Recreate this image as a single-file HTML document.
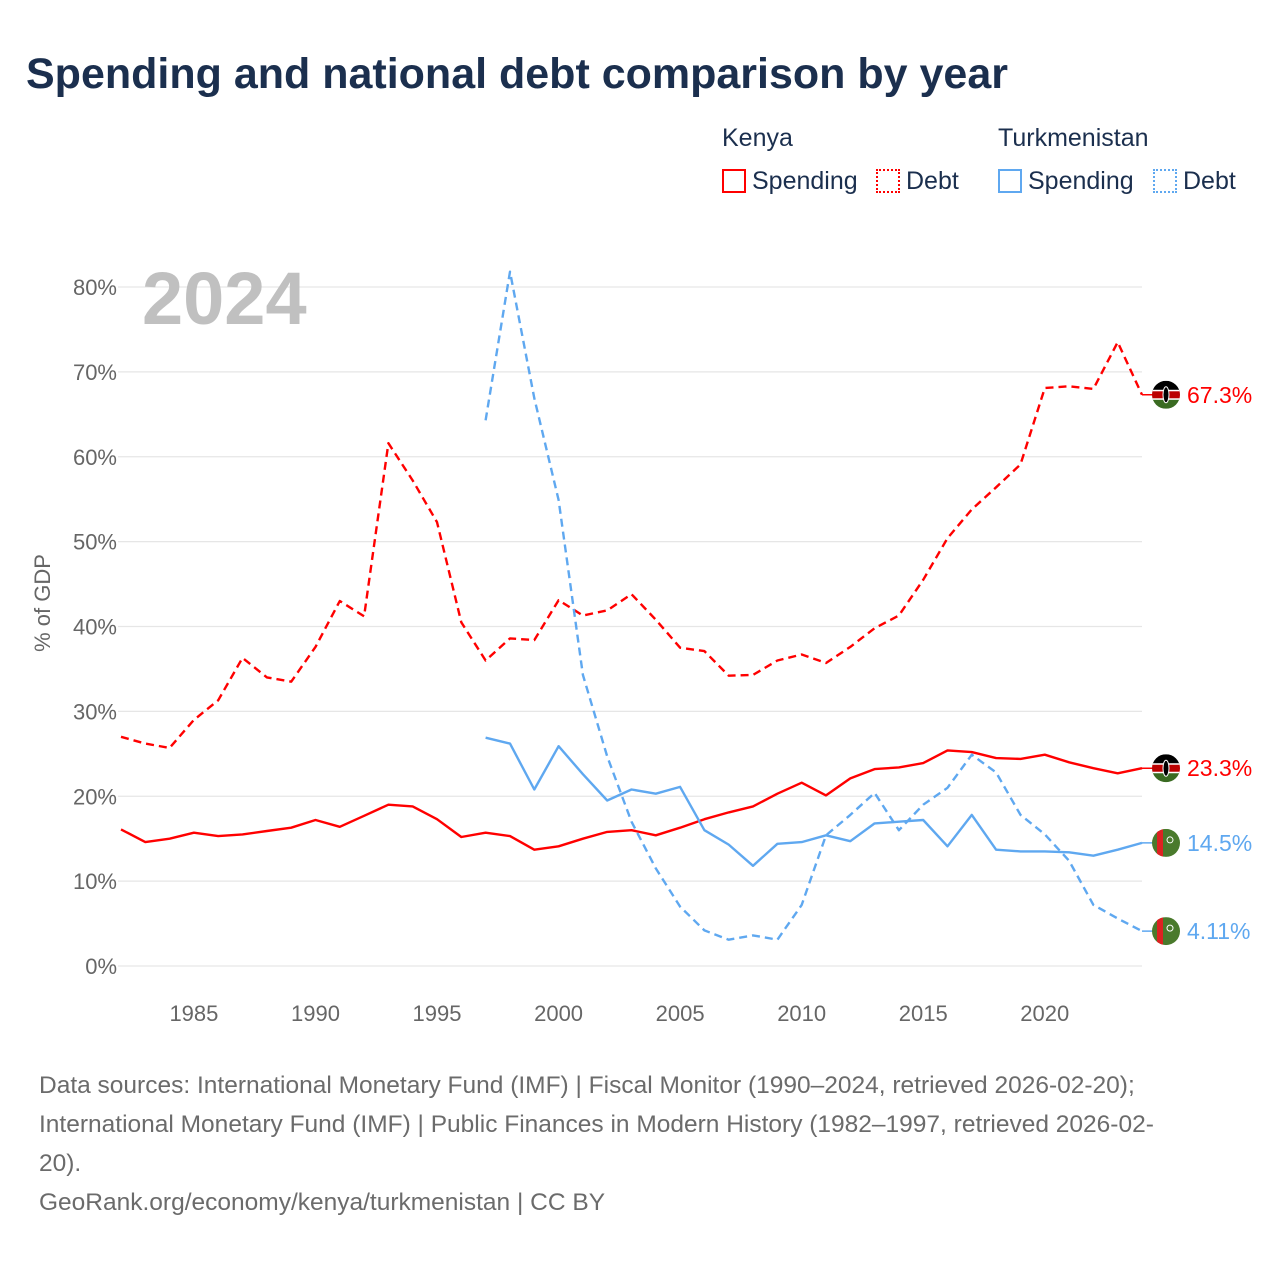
<!DOCTYPE html>
<html><head><meta charset="utf-8"><style>
body{margin:0;background:#fff;font-family:"Liberation Sans",sans-serif;}
#wrap{position:relative;width:1280px;height:1280px;overflow:hidden;}
.t{position:absolute;white-space:nowrap;}
</style></head><body>
<div id="wrap">
<div class="t" style="left:26px;top:50px;font-size:43px;font-weight:bold;color:#1b2f4e;letter-spacing:0px">Spending and national debt comparison by year</div>
<div class="t" style="left:722px;top:124px;font-size:25px;color:#1b2f4e">Kenya</div>
<div class="t" style="left:998px;top:124px;font-size:25px;color:#1b2f4e">Turkmenistan</div>
<div class="t" style="left:722px;top:167px;font-size:25px;color:#1b2f4e"><span style="display:inline-block;width:24px;height:24px;border:2px solid #f00;box-sizing:border-box;vertical-align:-4px;margin-right:6px"></span>Spending</div>
<div class="t" style="left:876px;top:167px;font-size:25px;color:#1b2f4e"><span style="display:inline-block;width:24px;height:24px;border:2px dotted #f00;box-sizing:border-box;vertical-align:-4px;margin-right:6px"></span>Debt</div>
<div class="t" style="left:998px;top:167px;font-size:25px;color:#1b2f4e"><span style="display:inline-block;width:24px;height:24px;border:2px solid #5fa8f0;box-sizing:border-box;vertical-align:-4px;margin-right:6px"></span>Spending</div>
<div class="t" style="left:1153px;top:167px;font-size:25px;color:#1b2f4e"><span style="display:inline-block;width:24px;height:24px;border:2px dotted #5fa8f0;box-sizing:border-box;vertical-align:-4px;margin-right:6px"></span>Debt</div>
<svg id="chart" width="1280" height="1280" style="position:absolute;left:0;top:0"></svg>
<div class="t" style="left:39px;top:1066px;font-size:24.5px;line-height:39px;color:#6b6b6b">Data sources: International Monetary Fund (IMF) | Fiscal Monitor (1990–2024, retrieved 2026-02-20);<br>International Monetary Fund (IMF) | Public Finances in Modern History (1982–1997, retrieved 2026-02-<br>20).<br>GeoRank.org/economy/kenya/turkmenistan | CC BY</div>
</div>
<script>
const kenyaYears=[1982,1983,1984,1985,1986,1987,1988,1989,1990,1991,1992,1993,1994,1995,1996,1997,1998,1999,2000,2001,2002,2003,2004,2005,2006,2007,2008,2009,2010,2011,2012,2013,2014,2015,2016,2017,2018,2019,2020,2021,2022,2023,2024];
const kenyaDebt=[27.0,26.2,25.7,29.0,31.3,36.3,34.0,33.5,37.6,43.0,41.2,61.6,57.2,52.3,40.5,36.0,38.6,38.4,43.1,41.3,41.9,43.8,40.8,37.5,37.1,34.2,34.3,36.0,36.7,35.7,37.6,39.8,41.3,45.5,50.4,53.8,56.4,59.1,68.1,68.3,68.0,73.5,67.3];
const kenyaSpending=[16.1,14.6,15.0,15.7,15.3,15.5,15.9,16.3,17.2,16.4,17.7,19.0,18.8,17.3,15.2,15.7,15.3,13.7,14.1,15.0,15.8,16.0,15.4,16.3,17.3,18.1,18.8,20.3,21.6,20.1,22.1,23.2,23.4,23.9,25.4,25.2,24.5,24.4,24.9,24.0,23.3,22.7,23.3];
const tkmYears=[1997,1998,1999,2000,2001,2002,2003,2004,2005,2006,2007,2008,2009,2010,2011,2012,2013,2014,2015,2016,2017,2018,2019,2020,2021,2022,2023,2024];
const tkmDebt=[64.3,81.8,66.9,54.9,34.3,24.7,17.0,11.5,7.0,4.2,3.1,3.6,3.1,7.2,15.4,17.8,20.4,16.0,19.0,21.0,24.9,22.8,17.8,15.5,12.4,7.2,5.6,4.11];
const tkmSpending=[26.9,26.2,20.8,25.9,22.6,19.5,20.8,20.3,21.1,16.0,14.3,11.8,14.4,14.6,15.4,14.7,16.8,17.0,17.2,14.1,17.8,13.7,13.5,13.5,13.4,13.0,13.7,14.5];
const yTicks=[0,10,20,30,40,50,60,70,80];
const xTicks=[1985,1990,1995,2000,2005,2010,2015,2020];
const endLabels=["67.3%","23.3%","14.5%","4.11%"];

const svg=document.getElementById('chart');const NS='http://www.w3.org/2000/svg';
const X0=121,X1=1142,Y0=966,Y80=287;
const xs=y=>X0+(y-1982)/(2024-1982)*(X1-X0);
const ys=v=>Y0-v/80*(Y0-Y80);
function mk(t,a){const e=document.createElementNS(NS,t);for(const k in a)e.setAttribute(k,a[k]);svg.appendChild(e);return e;}
yTicks.forEach(v=>{
 const g=mk('line',{x1:118,x2:X1,y1:ys(v),y2:ys(v),stroke:'#e6e6e6','stroke-width':1.3});
 
 
 const t=mk('text',{x:117,y:ys(v)+8,'text-anchor':'end','font-size':22,fill:'#666','font-family':'Liberation Sans'});
 t.textContent=v+'%';
 
 
});
xTicks.forEach(y=>{
 const t=mk('text',{x:xs(y),y:1021,'text-anchor':'middle','font-size':22,fill:'#666','font-family':'Liberation Sans'});
 t.textContent=y;
 
 
});
const yt=mk('text',{x:0,y:0,transform:'translate(50,603) rotate(-90)','text-anchor':'middle','font-size':22,fill:'#666','font-family':'Liberation Sans'});
yt.textContent='% of GDP';


const yr=mk('text',{x:142,y:324,'font-size':74,'font-weight':'bold',fill:'#c0c0c0','font-family':'Liberation Sans'});
yr.textContent='2024';


function line(years,vals,color,dash,name){
 const d=years.map((y,i)=>(i?'L':'M')+xs(y).toFixed(1)+','+ys(vals[i]).toFixed(1)).join(' ');
 const p=mk('path',{d:d,fill:'none',stroke:color,'stroke-width':2.4,'stroke-dasharray':dash,'stroke-linejoin':'round'});
 
 
}
line(kenyaYears,kenyaDebt,'#ff0000','8,5','kenya-debt-line');
line(kenyaYears,kenyaSpending,'#ff0000','none','kenya-spending-line');
line(tkmYears,tkmDebt,'#5fa8f0','8,5','turkmenistan-debt-line');
line(tkmYears,tkmSpending,'#5fa8f0','none','turkmenistan-spending-line');
const ends=[[kenyaDebt[kenyaDebt.length-1],'#ff0000','k'],[kenyaSpending[kenyaSpending.length-1],'#ff0000','k'],[tkmSpending[tkmSpending.length-1],'#5fa8f0','t'],[tkmDebt[tkmDebt.length-1],'#5fa8f0','t']];
ends.forEach((e,i)=>{
 const y=ys(e[0]);const cx=1166;
 mk('line',{x1:X1,x2:cx,y1:y,y2:y,stroke:e[1],'stroke-width':1.5});
 const g=document.createElementNS(NS,'g');svg.appendChild(g);
 
 
 const cid='c'+i;
 const cp=document.createElementNS(NS,'clipPath');cp.setAttribute('id',cid);
 const cc=document.createElementNS(NS,'circle');cc.setAttribute('cx',cx);cc.setAttribute('cy',y);cc.setAttribute('r',14);cp.appendChild(cc);g.appendChild(cp);
 const add=(t,a)=>{const el=document.createElementNS(NS,t);for(const k in a)el.setAttribute(k,a[k]);el.setAttribute('clip-path','url(#'+cid+')');g.appendChild(el);};
 if(e[2]=='k'){
  add('rect',{x:cx-14,y:y-14,width:28,height:10,fill:'#000'});
  add('rect',{x:cx-14,y:y-4,width:28,height:8,fill:'#b00'});
  add('rect',{x:cx-14,y:y+4,width:28,height:10,fill:'#3a6b22'});
  add('rect',{x:cx-14,y:y-5,width:28,height:1.5,fill:'#fff'});
  add('rect',{x:cx-14,y:y+3.5,width:28,height:1.5,fill:'#fff'});
  add('ellipse',{cx:cx,cy:y,rx:3,ry:8,fill:'#000',stroke:'#fff','stroke-width':1});
 }else{
  add('rect',{x:cx-14,y:y-14,width:28,height:28,fill:'#4a7a2c'});
  add('rect',{x:cx-9,y:y-14,width:6,height:28,fill:'#d22'});
  add('circle',{cx:cx+4,cy:y-3,r:3,fill:'none',stroke:'#fff','stroke-width':1});
 }
 const t=mk('text',{x:1187,y:y+8,'font-size':23,fill:e[1],'font-family':'Liberation Sans'});
 t.textContent=endLabels[i];
 
 
});
</script>
</body></html>
